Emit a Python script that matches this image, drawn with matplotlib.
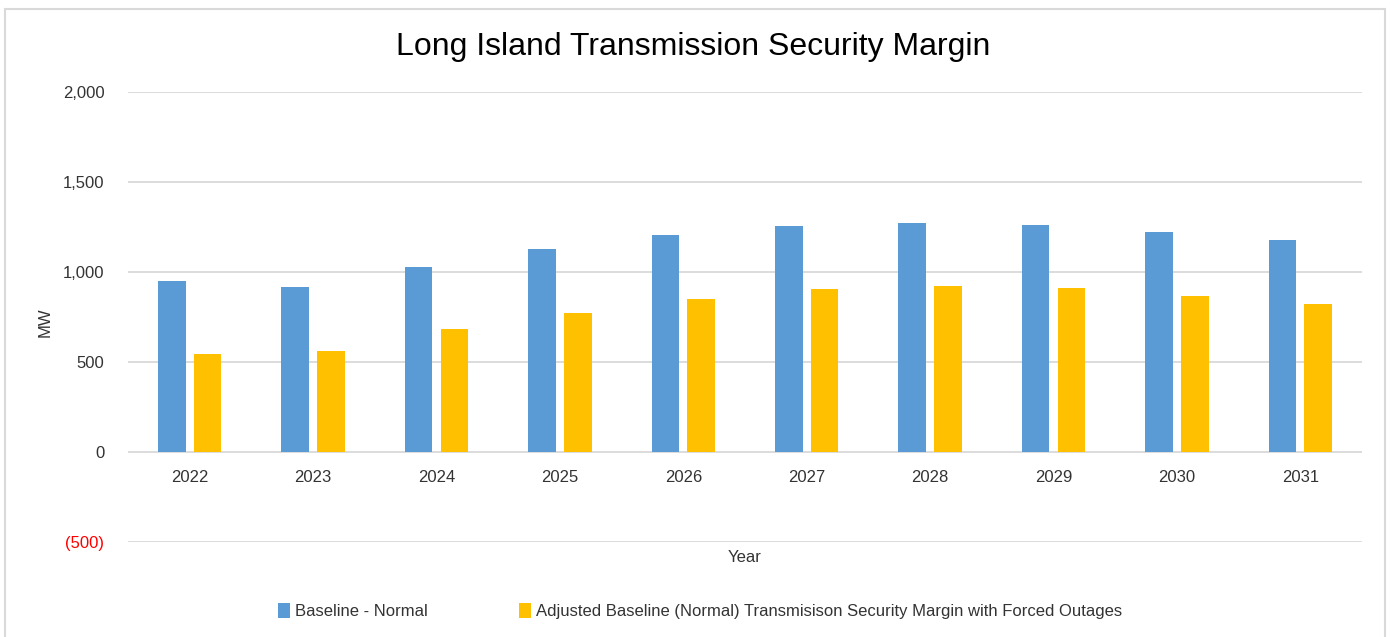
import matplotlib.pyplot as plt
import matplotlib.patches as mpatches
from matplotlib.ticker import FuncFormatter
import numpy as np

plt.rcParams['font.family'] = ['Liberation Sans', 'DejaVu Sans']

years = ['2022', '2023', '2024', '2025', '2026', '2027', '2028', '2029', '2030', '2031']
baseline_normal = [950, 915, 1030, 1126, 1206, 1257, 1272, 1261, 1220, 1178]
adjusted_forced = [544, 561, 683, 770, 850, 904, 924, 909, 867, 824]

series_names = ['Baseline - Normal',
                'Adjusted Baseline (Normal) Transmisison Security Margin with Forced Outages']

fig = plt.figure(figsize=(13.9, 6.37), dpi=100)
ax = fig.add_axes([128/1390, 1 - 542/637, (1362 - 128)/1390, (542 - 92)/637])

x = np.arange(len(years))
w = 0.224
gap = 0.065
ax.bar(x - (w + gap)/2, baseline_normal, w, color='#5B9BD5', label=series_names[0], zorder=3)
ax.bar(x + (w + gap)/2, adjusted_forced, w, color='#FFC000', label=series_names[1], zorder=3)

ax.set_xlim(-0.5, len(years) - 0.5)
ax.set_ylim(-500, 2000)
ax.set_yticks([-500, 0, 500, 1000, 1500, 2000])
ax.yaxis.set_major_formatter(FuncFormatter(
    lambda v, p: f'({abs(v):,.0f})' if v < 0 else f'{v:,.0f}'))
ax.set_xticks(x)
ax.set_xticklabels(years)

# category axis crosses at zero, like the Excel original
ax.spines['bottom'].set_position(('data', 0))

ax.grid(axis='y', color='#d9d9d9', linewidth=1.3, zorder=0)
ax.set_axisbelow(True)
for s in ax.spines.values():
    s.set_visible(False)
ax.tick_params(axis='both', length=0, labelsize=12, colors='#333333')
ax.tick_params(axis='x', pad=13)
ax.tick_params(axis='y', pad=17)
for lbl, v in zip(ax.get_yticklabels(), ax.get_yticks()):
    if v < 0:
        lbl.set_color('red')

fig.text(45/1390, 1 - 322/637, 'MW', rotation=90, ha='center', va='center', fontsize=12, color='#333333')
fig.text(745/1390, 1 - 557/637, 'Year', ha='center', va='center', fontsize=12, color='#333333')
fig.text(693/1390, 1 - 47/637, 'Long Island Transmission Security Margin',
         ha='center', va='center', fontsize=23, color='black')

fig.legend(loc='center', bbox_to_anchor=(700/1390, 1 - 611/637), ncol=2, frameon=False,
           fontsize=12, handlelength=0.7, handleheight=1.0, handletextpad=0.3,
           columnspacing=5.5, labelcolor='#333333')

fig.patches.append(mpatches.Rectangle((5/1390, -0.05), 1380/1390, 1.05 - 9/637,
                                      transform=fig.transFigure, fill=False,
                                      edgecolor='#d9d9d9', linewidth=1.5))

fig.savefig('out.png', dpi=100)
